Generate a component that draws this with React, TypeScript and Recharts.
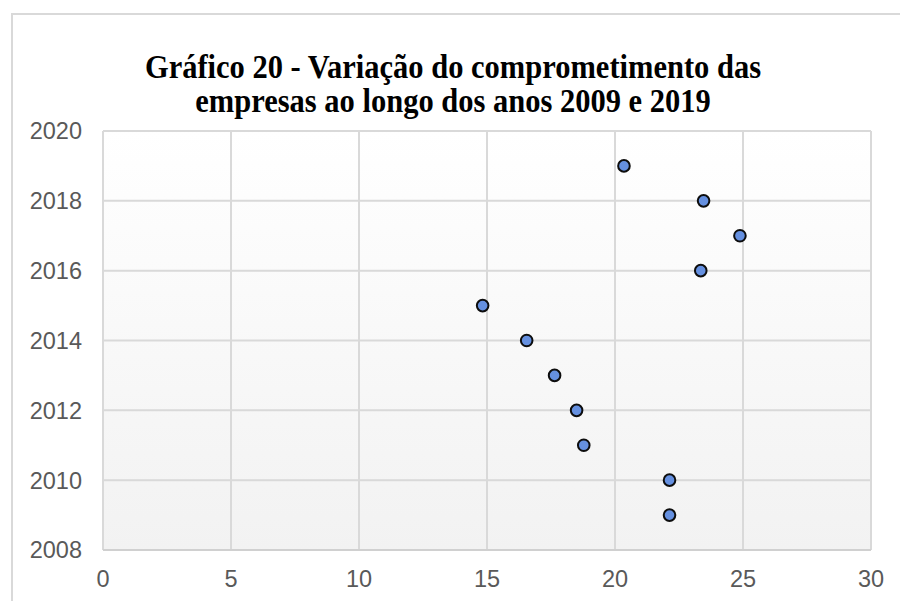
import { CartesianGrid, Scatter, ScatterChart, XAxis, YAxis } from "recharts";

const YEARS = [2009, 2010, 2011, 2012, 2013, 2014, 2015, 2016, 2017, 2018, 2019];
const COMMITMENT = [22.13, 22.13, 18.78, 18.5, 17.64, 16.55, 14.83, 23.35, 24.88, 23.46, 20.35];
const X_TICKS = [0, 5, 10, 15, 20, 25, 30];
const Y_TICKS = [2008, 2010, 2012, 2014, 2016, 2018, 2020];
const TITLE_LINES = [
  "Gráfico 20 - Variação do comprometimento das",
  "empresas ao longo dos anos 2009 e 2019",
];

const points = YEARS.map((year, i) => ({ x: COMMITMENT[i], y: year }));

const tickStyle = { fill: "#595959", fontSize: 23.5, fontFamily: "'Liberation Sans', Arial, sans-serif" };

function Dot(props: any) {
  return <circle cx={props.cx} cy={props.cy} r={5.8} fill="#6590e0" stroke="#0d0d0d" strokeWidth={2} />;
}

export default function App() {
  return (
    <div style={{ position: "absolute", left: 0, top: 0, width: 900, height: 601, overflow: "hidden", background: "#fff" }}>
      <div
        style={{
          position: "absolute",
          left: 11,
          top: 13,
          width: 920,
          height: 620,
          border: "2px solid #d9d9d9",
        }}
      />
      <div
        style={{
          position: "absolute",
          left: 0,
          top: 50,
          width: 906,
          textAlign: "center",
          fontFamily: "'Liberation Serif', 'Times New Roman', serif",
          fontWeight: "bold",
          fontSize: 30.5,
          lineHeight: "34px",
          color: "#000",
        }}
      >
        {TITLE_LINES.map((l) => (
          <div key={l} style={{ transform: "scaleY(1.1)", transformOrigin: "50% 50%" }}>
            {l}
          </div>
        ))}
      </div>
      <div style={{ position: "absolute", left: 0, top: 0 }}>
        <ScatterChart width={900} height={601} margin={{ top: 131, right: 29, bottom: 0, left: 0 }}>
          <defs>
            <linearGradient id="plotBg" x1="0" y1="0" x2="0" y2="1">
              <stop offset="0%" stopColor="#ffffff" />
              <stop offset="100%" stopColor="#f2f2f2" />
            </linearGradient>
          </defs>
          <CartesianGrid stroke="#d9d9d9" strokeWidth={2} fill="url(#plotBg)" />
          <XAxis
            type="number"
            dataKey="x"
            domain={[0, 30]}
            ticks={X_TICKS}
            height={51}
            axisLine={{ stroke: "#d0d0d0", strokeWidth: 2 }}
            tickLine={false}
            tickSize={0}
            tickMargin={20}
            tick={tickStyle}
            interval={0}
          />
          <YAxis
            type="number"
            dataKey="y"
            domain={[2008, 2020]}
            ticks={Y_TICKS}
            width={103}
            axisLine={false}
            tickLine={false}
            tickSize={0}
            tickMargin={21}
            tick={tickStyle}
            interval={0}
          />
          <Scatter data={points} shape={Dot} isAnimationActive={false} />
        </ScatterChart>
      </div>
    </div>
  );
}
